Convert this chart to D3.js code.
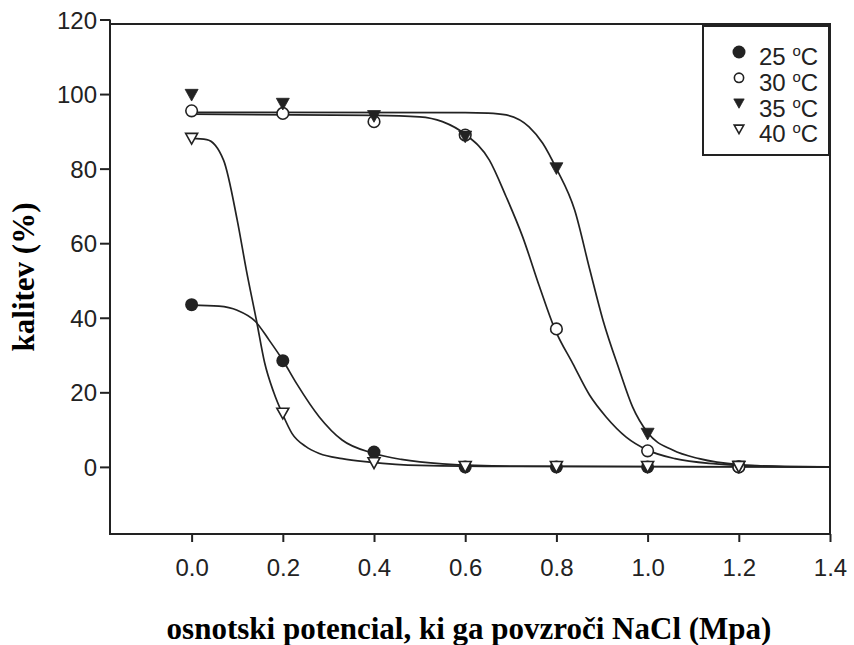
<!DOCTYPE html>
<html>
<head>
<meta charset="utf-8">
<script src="https://cdn.jsdelivr.net/npm/d3@7"></script>
<style>
  body { margin: 0; background: #fff; }
  svg { display: block; }
</style>
</head>
<body>
<svg id="chart" width="854" height="645"></svg>
<script>
// measured points (NaCl potential, germination %)
var pressure = [0, 0.2, 0.4, 0.6, 0.8, 1.0, 1.2];
var g25 = [43.5, 28.5, 4, 0, 0, 0, 0];
var g30 = [95.5, 94.8, 92.6, 89, 37, 4.3, 0];
var g35 = [99.7, 97.3, 94, 88.5, 80, 8.8, 0];
var g40 = [88, 14.3, 1, 0, 0, 0, 0];

// fitted curves
var fit25 = [[0, 43.4], [0.06, 43.1], [0.1, 42], [0.14, 39], [0.17, 34], [0.2, 28.6], [0.23, 22.4],
    [0.28, 13.4], [0.33, 7.2], [0.4, 3.6], [0.46, 2], [0.55, 0.8], [0.7, 0.2], [1.4, 0]];
var fit30 = [[0, 94.6], [0.4, 94.3], [0.5, 93.9], [0.55, 92.6], [0.6, 89.2], [0.653, 82.3], [0.69, 72.4],
    [0.726, 61.7], [0.763, 48.3], [0.796, 37.1], [0.836, 27.7], [0.873, 19.2], [0.909, 13.4],
    [0.953, 8], [1.0, 4.5], [1.06, 2.2], [1.15, 0.8], [1.25, 0.2], [1.4, 0]];
var fit35 = [[0, 95.1], [0.6, 95], [0.65, 94.9], [0.69, 94.4], [0.74, 91.2], [0.77, 86.8], [0.8, 80],
    [0.84, 68.9], [0.873, 53], [0.902, 39.4], [0.938, 26], [0.967, 16.1], [1.0, 9.2], [1.055, 4.5],
    [1.113, 2.2], [1.2, 0.6], [1.3, 0.1], [1.4, 0]];
var fit40 = [[0, 88.1], [0.033, 87.8], [0.07, 82.3], [0.1, 66.2], [0.12, 52.8], [0.142, 39.4],
    [0.16, 28], [0.18, 20], [0.2, 14], [0.22, 9], [0.25, 5.5], [0.28, 3.6], [0.33, 2.2], [0.39, 1.3],
    [0.5, 0.4], [0.7, 0.1], [1.4, 0]];

var xTicks = [0, 0.2, 0.4, 0.6, 0.8, 1.0, 1.2, 1.4];
var yTicks = [0, 20, 40, 60, 80, 100, 120];
var legendLabels = ["25", "30", "35", "40"];

var svg = d3.select("#chart"),
    plotLeft = 110,
    plotRight = 830,
    plotTop = 19.5,
    plotBottom = 534,
    ink = "#222";

var x = d3.scaleLinear().domain([-0.179, 1.4]).range([plotLeft, plotRight]);
var y = d3.scaleLinear().domain([-18, 120]).range([plotBottom, plotTop]);

// marker shapes: 0 filled circle, 1 open circle, 2 filled down-triangle, 3 open down-triangle
function triDown(s) {
    var w = s, h = s * 0.9;
    return "M" + (-w / 2) + "," + (-h / 2) + "L" + (w / 2) + "," + (-h / 2) + "L0," + (h / 2) + "Z";
}
function drawMarker(g, kind, cx, cy, scale) {
    scale = scale || 1;
    if (kind < 2) {
        g.append("circle")
            .attr("cx", cx).attr("cy", cy)
            .attr("r", (kind === 0 ? 6.5 : 5.8) * (kind === 1 ? scale : 1))
            .style("fill", kind === 0 ? ink : "#fff")
            .style("stroke", ink)
            .style("stroke-width", kind === 0 ? 0 : 1.6);
    } else {
        g.append("path")
            .attr("d", triDown((kind === 2 ? 13 : 12) * scale))
            .attr("transform", "translate(" + cx + "," + cy + ")")
            .style("fill", kind === 2 ? ink : "#fff")
            .style("stroke", ink)
            .style("stroke-width", kind === 2 ? 0.8 : 1.6)
            .style("stroke-linejoin", "miter");
    }
}

// axes
var xAxis = d3.axisBottom(x).tickValues(xTicks).tickFormat(d3.format(".1f")).tickSize(8).tickPadding(17);
var yAxis = d3.axisLeft(y).tickValues(yTicks).tickFormat(d3.format("d")).tickSize(10).tickPadding(3);

var gx = svg.append("g").attr("transform", "translate(0," + plotBottom + ")").call(xAxis);
var gy = svg.append("g").attr("transform", "translate(" + plotLeft + ",0)").call(yAxis);

[gx, gy].forEach(function (g) {
    g.attr("font-size", null).attr("font-family", null);
    g.select(".domain").remove();
    g.selectAll(".tick line").style("stroke", ink).style("stroke-width", 2);
    g.selectAll(".tick text")
        .style("font-family", "'Liberation Sans', Arial, sans-serif")
        .style("font-size", "24px")
        .style("fill", ink);
});
gy.selectAll(".tick text").attr("dy", "0.36em");

// frame
svg.append("path")
    .attr("d", "M" + plotLeft + "," + y(120) + "V" + plotBottom + "H" + plotRight + "V" + (plotTop + 4.5) + "H" + plotLeft)
    .style("fill", "none")
    .style("stroke", ink)
    .style("stroke-width", 2);

// fitted curves
var line = d3.line()
    .x(function (d) { return x(d[0]); })
    .y(function (d) { return y(d[1]); })
    .curve(d3.curveMonotoneX);

[fit25, fit30, fit35, fit40].forEach(function (f) {
    svg.append("path")
        .attr("d", line(f))
        .style("fill", "none")
        .style("stroke", ink)
        .style("stroke-width", 1.7);
});

// points
var pts = svg.append("g");
[g25, g30, g35, g40].forEach(function (vals, k) {
    vals.forEach(function (v, i) {
        drawMarker(pts, k, x(pressure[i]), y(v));
    });
});

// legend
var lg = svg.append("g");
lg.append("rect")
    .attr("x", 703).attr("y", 26)
    .attr("width", 126).attr("height", 129)
    .style("fill", "#fff")
    .style("stroke", ink)
    .style("stroke-width", 2);

legendLabels.forEach(function (lab, k) {
    var rowY = 52 + k * 25.8;
    drawMarker(lg, k, 739, rowY, 0.8);
    var t = lg.append("text")
        .attr("x", 759)
        .attr("y", rowY + 13)
        .style("font-family", "'Liberation Sans', Arial, sans-serif")
        .style("font-size", "24px")
        .style("fill", ink);
    t.append("tspan").text(lab + " ");
    t.append("tspan").attr("dy", -9).style("font-size", "15px").text("o");
    t.append("tspan").attr("dy", 9).text("C");
});

// axis titles
svg.append("text")
    .attr("transform", "translate(34,277) rotate(-90)")
    .attr("text-anchor", "middle")
    .style("font-family", "'Liberation Serif', 'Times New Roman', serif")
    .style("font-weight", "bold")
    .style("font-size", "31px")
    .style("fill", "#000")
    .text("kalitev (%)");

svg.append("text")
    .attr("x", 469)
    .attr("y", 639)
    .attr("text-anchor", "middle")
    .style("font-family", "'Liberation Serif', 'Times New Roman', serif")
    .style("font-weight", "bold")
    .style("font-size", "31px")
    .style("fill", "#000")
    .text("osnotski potencial, ki ga povzroči NaCl (Mpa)");
</script>
</body>
</html>
